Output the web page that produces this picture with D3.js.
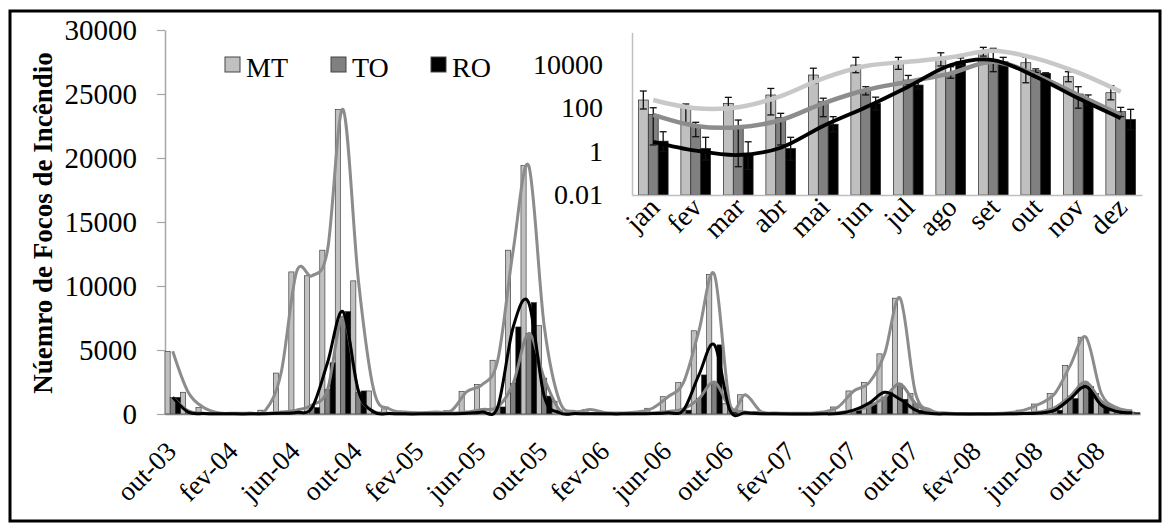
<!DOCTYPE html>
<html><head><meta charset="utf-8">
<script src="https://cdn.jsdelivr.net/npm/d3@7"></script>
<style>body{margin:0;background:#fff}svg{display:block}text{font-family:"Liberation Serif","Times New Roman",serif;fill:#000}</style>
</head><body>
<svg id="c" width="1163" height="526"></svg>
<script>
// ---------- DATA ----------
const monthNames = ["jan","fev","mar","abr","mai","jun","jul","ago","set","out","nov","dez"];
const categories = [];
for (let k = 0; k < 63; k++) {
  const m = (9 + k) % 12, yr = 3 + Math.floor((9 + k) / 12);
  categories.push(monthNames[m] + "-" + String(yr).padStart(2, "0"));
}
const tickLabels = ["out-03","fev-04","jun-04","out-04","fev-05","jun-05","out-05","fev-06","jun-06","out-06","fev-07","jun-07","out-07","fev-08","jun-08","out-08"];
const seriesNames = ["MT","TO","RO"];
const mtValues = [4900,1700,500,80,60,80,300,3200,11100,10800,12800,23800,10400,1800,400,150,100,150,250,1750,2300,4200,12800,19400,6900,1000,200,350,100,80,150,450,1350,2450,6500,10900,800,1500,200,80,60,60,150,550,1800,2450,4700,9050,1600,300,80,30,30,40,100,300,780,1600,3800,6000,1600,500,250];
const toValues = [1300,250,60,20,15,20,40,150,300,700,1900,7600,1700,200,60,20,15,20,50,150,350,550,2400,6300,2800,300,60,30,15,15,30,80,200,400,1200,2500,500,150,40,15,10,10,30,100,300,600,1300,2350,800,100,20,10,10,10,20,60,150,500,1400,2500,1000,300,150];
const roValues = [1300,150,30,10,10,10,20,60,120,500,4000,8000,1800,150,30,10,10,10,20,60,150,550,6800,8700,1400,100,30,10,10,10,15,40,100,300,3050,5400,300,100,20,10,5,5,10,40,300,850,1700,1150,300,40,10,5,5,5,10,30,80,300,1200,2150,700,200,100];
const yTicks = [0,5000,10000,15000,20000,25000,30000];

// inset (monthly means, log scale)
const insetMonths = monthNames;
const insetTicks = [0.01,1,100,10000];
const insetMT = [233,107,164,396,3290,9480,11350,17300,38800,12100,2750,505];
const insetTO = [51,13.8,11.7,37,195,624,1940,3940,16100,5190,440,68];
const insetRO = [3.0,1.4,0.69,1.4,18,164,1140,13450,13450,3940,233,30];
const insetMTUp = [605,153,309,794,6760,21400,21400,34700,61700,21400,4680,1070];
const insetMTLow = [90,20,87,48,1350,4200,6020,8625,24400,1450,1616,238];
const insetTOUp = [103,22,28,57,282,955,3160,7940,55400,6300,955,107];
const insetTOLow = [2,4.8,0.2,2,40,400,1200,2340,4680,4300,98,40];
const insetROUp = [8.1,4.5,2.8,4.5,40,316,1740,20000,21400,4170,398,87];
const insetROLow = [1,0.4,0.15,0.4,8,80,750,9000,8500,3700,140,10];
const insetMTTrend = [233,97,108,356,2320,8530,13450,21400,43000,19300,4200,561];
const insetTOTrend = [48,15,13,28,164,673,1620,3940,13450,3290,396,48];
const insetROTrend = [2.8,1.09,0.69,1.5,14.9,108,953,9480,16100,2750,279,34];

// ---------- DRAW ----------
const svg = d3.select("#c");
svg.append("rect").attr("width",1163).attr("height",526).attr("fill","#fff");
svg.append("rect").attr("x",10).attr("y",11).attr("width",1150).attr("height",510)
  .attr("fill","none").attr("stroke","#000").attr("stroke-width",3);

const fills = {MT:"#c0c0c0", TO:"#808080", RO:"#000000"};
const seriesData = {MT:mtValues, TO:toValues, RO:roValues};

// main chart
const x = d3.scaleBand().domain(categories).range([165,1140]).padding(0);
const xs = d3.scaleBand().domain(seriesNames).range([0, x.bandwidth()]).padding(0);
const y = d3.scaleLinear().domain([0,30000]).range([414,30]);

const gy = svg.append("g").attr("transform","translate(165,0)")
  .call(d3.axisLeft(y).tickValues(yTicks).tickSize(8).tickSizeOuter(0).tickPadding(20).tickFormat(d3.format("d")));
gy.select(".domain").attr("stroke","#a6a6a6").attr("stroke-width",1.5);
gy.selectAll(".tick line").attr("stroke","#a6a6a6").attr("stroke-width",1.2);
gy.selectAll(".tick text").attr("font-size",29).attr("font-family","Liberation Serif");

const bars = svg.append("g");
seriesNames.forEach(s => {
  bars.selectAll(null).data(seriesData[s]).enter().append("rect")
    .attr("x",(d,i)=>x(categories[i]) + xs(s))
    .attr("y",d=>y(d))
    .attr("width",xs.bandwidth())
    .attr("height",d=>y(0)-y(d))
    .attr("fill",fills[s]).attr("stroke","#2a2a2a").attr("stroke-width",0.6);
});

const gx = svg.append("g").attr("transform","translate(0,414)")
  .call(d3.axisBottom(x).tickValues(tickLabels).tickSize(0).tickSizeOuter(0));
gx.select(".domain").attr("stroke","#7f7f7f").attr("stroke-width",1.5);
gx.selectAll(".tick text").attr("font-size",27).attr("font-family","Liberation Serif")
  .attr("text-anchor","end").attr("x",5).attr("y",39).attr("dy","0")
  .attr("transform","rotate(-45 5 39)");

const lineColors = {MT:"#8c8c8c", TO:"#858585", RO:"#000"};
seriesNames.forEach(s => {
  const ln = d3.line().x((d,i)=>x(categories[i]) + x.bandwidth()/2).y(d=>y(d)).curve(d3.curveCardinal.tension(0));
  svg.append("path").datum(seriesData[s]).attr("d",ln)
    .attr("fill","none").attr("stroke",lineColors[s]).attr("stroke-width",3);
});

// y label
svg.append("text").attr("transform","translate(43,223) rotate(-90)")
  .attr("text-anchor","middle").attr("dominant-baseline","central")
  .attr("font-size",27).attr("font-weight","bold").text("Núemro de Focos de Incêndio");

// legend
const legX = {MT:225, TO:331, RO:431};
seriesNames.forEach(s => {
  svg.append("rect").attr("x",legX[s]).attr("y",57).attr("width",15).attr("height",15)
    .attr("fill",fills[s]).attr("stroke","#444").attr("stroke-width",1);
  svg.append("text").attr("x",legX[s]+21).attr("y",77).attr("font-size",28).text(s);
});

// ---------- INSET ----------
const xi = d3.scaleBand().domain(insetMonths).range([632,1142]).paddingInner(0.3).paddingOuter(0.15);
const xis = d3.scaleBand().domain(seriesNames).range([0, xi.bandwidth()]).padding(0);
const yi = d3.scaleLog().domain([0.01, 3e5]).range([195, 32.4]);
const insetData = {MT:insetMT, TO:insetTO, RO:insetRO};
const insetUp = {MT:insetMTUp, TO:insetTOUp, RO:insetROUp};
const insetLow = {MT:insetMTLow, TO:insetTOLow, RO:insetROLow};
const insetTrend = {MT:insetMTTrend, TO:insetTOTrend, RO:insetROTrend};

const giy = svg.append("g").attr("transform","translate(632,0)")
  .call(d3.axisLeft(yi).tickValues(insetTicks).tickSize(0).tickSizeOuter(0).tickPadding(29)
    .tickFormat(d => d < 1 ? "0.01" : d3.format("d")(d)));
giy.select(".domain").attr("stroke","#bfbfbf").attr("stroke-width",1.5);
giy.selectAll(".tick text").attr("font-size",28).attr("font-family","Liberation Serif");

const ib = svg.append("g");
seriesNames.forEach(s => {
  ib.selectAll(null).data(insetData[s]).enter().append("rect")
    .attr("x",(d,i)=>xi(insetMonths[i]) + xis(s))
    .attr("y",d=>yi(d))
    .attr("width",xis.bandwidth())
    .attr("height",d=>195-yi(d))
    .attr("fill",fills[s]).attr("stroke","#2a2a2a").attr("stroke-width",0.7);
});
seriesNames.forEach(s => {
  insetData[s].forEach((v,i) => {
    const cx = xi(insetMonths[i]) + xis(s) + xis.bandwidth()/2;
    const yu = yi(insetUp[s][i]), yl = Math.min(195, yi(insetLow[s][i]));
    ib.append("line").attr("x1",cx).attr("x2",cx).attr("y1",yu).attr("y2",yl).attr("stroke","#111").attr("stroke-width",1.3);
    ib.append("line").attr("x1",cx-3.5).attr("x2",cx+3.5).attr("y1",yu).attr("y2",yu).attr("stroke","#111").attr("stroke-width",1.3);
    ib.append("line").attr("x1",cx-3.5).attr("x2",cx+3.5).attr("y1",yl).attr("y2",yl).attr("stroke","#111").attr("stroke-width",1.3);
  });
});

const gix = svg.append("g").attr("transform","translate(0,195)")
  .call(d3.axisBottom(xi).tickSize(0).tickSizeOuter(0));
gix.select(".domain").attr("stroke","#bfbfbf").attr("stroke-width",1.5);
gix.selectAll(".tick text").attr("font-size",28).attr("font-family","Liberation Serif")
  .attr("text-anchor","end").attr("x",8).attr("y",14).attr("dy","0")
  .attr("transform","rotate(-45 8 14)");

const insetLineColors = {MT:"#c8c8c8", TO:"#8c8c8c", RO:"#000"};
const insetLineW = {MT:4.5, TO:4.5, RO:3.8};
seriesNames.forEach(s => {
  const ln = d3.line().x((d,i)=>xi(insetMonths[i]) + xi.bandwidth()/2).y(d=>yi(d)).curve(d3.curveCardinal.tension(0));
  svg.append("path").datum(insetTrend[s]).attr("d",ln)
    .attr("fill","none").attr("stroke",insetLineColors[s]).attr("stroke-width",insetLineW[s]);
});
</script>
</body></html>
